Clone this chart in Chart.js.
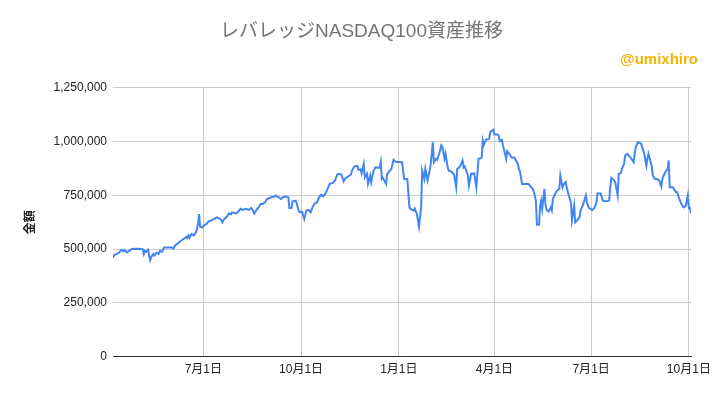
<!DOCTYPE html>
<html lang="ja">
<head>
<meta charset="utf-8">
<title>レバレッジNASDAQ100資産推移</title>
<script src="https://cdn.jsdelivr.net/npm/chart.js@4.4.1/dist/chart.umd.min.js"></script>
<style>
    html, body { margin: 0; padding: 0; background: #ffffff; }
    canvas { display: block; }
</style>
</head>
<body>
<canvas id="assetChart" width="712" height="396"></canvas>
<script>
// ============================================
// DATA
// ============================================

// days counted from 2020-04-01
const days = [
    6, 7, 10, 12, 13, 14, 16, 17, 19, 22, 24, 29, 34, 35, 36, 37, 39, 40, 41, 42,
    44, 45, 47, 49, 50, 52, 54, 61, 63, 65, 67, 69, 71, 73, 75, 76, 77, 78, 80, 82,
    84, 85, 86, 87, 88, 90, 92, 94, 96, 98, 101, 104, 107, 109, 110, 112, 114, 115, 117, 118,
    122, 124, 126, 128, 131, 134, 136, 137, 139, 141, 143, 145, 147, 149, 151, 155, 158, 159, 162, 164,
    166, 169, 171, 172, 174, 175, 178, 179, 181, 182, 184, 186, 188, 190, 192, 194, 196, 198, 200, 202,
    204, 206, 208, 210, 213, 215, 217, 219, 221, 223, 225, 227, 230, 231, 233, 236, 237, 239, 240, 242,
    243, 245, 246, 248, 249, 251, 253, 257, 258, 259, 260, 263, 264, 266, 268, 270, 272, 278, 280, 283,
    285, 286, 289, 290, 292, 294, 296, 297, 299, 300, 302, 304, 305, 306, 307, 308, 310, 311, 313, 315,
    316, 318, 319, 321, 322, 324, 326, 327, 329, 330, 332, 333, 335, 336, 337, 339, 340, 341, 343, 346,
    348, 350, 352, 353, 354, 355, 357, 360, 361, 364, 365, 368, 369, 370, 372, 373, 375, 376, 377, 379,
    381, 384, 387, 388, 389, 391, 397, 399, 401, 402, 404, 405, 407, 408, 409, 410, 412, 413, 414, 416,
    418, 419, 420, 422, 424, 426, 427, 429, 430, 432, 433, 435, 437, 438, 440, 441, 443, 445, 446, 448,
    450, 451, 452, 454, 457, 459, 461, 462, 465, 467, 469, 473, 474, 475, 478, 479, 481, 482, 484, 485,
    487, 488, 490, 493, 496, 497, 498, 500, 503, 504, 506, 508, 509, 510, 513, 514, 516, 518, 520, 522,
    523, 525, 528, 529, 530, 533, 536, 537, 539, 541, 543, 545, 547, 548, 549, 550
];

const values = [
    460000, 472000, 479000, 484000, 492000, 497000, 489000, 495000, 484000, 495000,
    500000, 502000, 500000, 477000, 492000, 487000, 497000, 469000, 449000, 464000,
    477000, 470000, 484000, 477000, 492000, 487000, 507000, 507000, 503000, 520000,
    526000, 535000, 542000, 549000, 557000, 551000, 563000, 553000, 570000, 563000,
    577000, 593000, 617000, 663000, 604000, 601000, 612000, 617000, 629000, 632000,
    640000, 647000, 640000, 624000, 636000, 644000, 655000, 666000, 662000, 671000,
    666000, 675000, 687000, 682000, 687000, 682000, 691000, 685000, 666000, 682000,
    694000, 710000, 710000, 717000, 733000, 741000, 744000, 749000, 741000, 733000,
    741000, 744000, 741000, 691000, 691000, 722000, 725000, 710000, 675000, 671000,
    674000, 640000, 679000, 682000, 671000, 697000, 713000, 717000, 741000, 753000,
    745000, 759000, 780000, 803000, 808000, 819000, 847000, 850000, 847000, 815000,
    831000, 837000, 847000, 865000, 884000, 888000, 868000, 870000, 852000, 896000,
    834000, 850000, 803000, 842000, 810000, 862000, 880000, 878000, 904000, 826000,
    831000, 803000, 847000, 862000, 873000, 915000, 906000, 904000, 826000, 826000,
    694000, 687000, 679000, 688000, 663000, 604000, 694000, 865000, 826000, 873000,
    819000, 865000, 896000, 943000, 997000, 904000, 920000, 915000, 943000, 982000,
    975000, 920000, 943000, 880000, 865000, 862000, 852000, 848000, 787000, 873000,
    880000, 888000, 912000, 880000, 885000, 857000, 842000, 795000, 850000, 852000,
    787000, 920000, 922000, 924000, 1005000, 985000, 1008000, 1013000, 1044000, 1055000,
    1033000, 1033000, 1028000, 1002000, 1008000, 982000, 943000, 920000, 955000, 943000,
    927000, 924000, 896000, 873000, 862000, 803000, 803000, 791000, 780000, 769000,
    725000, 613000, 613000, 702000, 725000, 687000, 780000, 710000, 682000, 675000,
    694000, 680000, 733000, 756000, 772000, 780000, 842000, 787000, 800000, 811000,
    787000, 749000, 717000, 635000, 702000, 624000, 635000, 647000, 679000, 702000,
    733000, 749000, 717000, 691000, 682000, 691000, 717000, 759000, 759000, 725000,
    722000, 725000, 787000, 831000, 819000, 803000, 749000, 850000, 854000, 873000,
    896000, 935000, 943000, 927000, 904000, 943000, 974000, 997000, 990000, 974000,
    943000, 888000, 920000, 943000, 888000, 842000, 826000, 826000, 819000, 791000,
    826000, 850000, 873000, 912000, 787000, 787000, 764000, 764000, 733000, 710000,
    694000, 700000, 749000, 691000, 691000, 666000
];

// x-axis ticks (same day count) and their labels
const tickDays = [91, 183, 275, 365, 456, 548];
const tickLabels = ['7月1日', '10月1日', '1月1日', '4月1日', '7月1日', '10月1日'];

const chartTitle = 'レバレッジNASDAQ100資産推移';
const chartCredit = '@umixhiro';
const yAxisTitle = '金額';

// ============================================
// CHART
// ============================================

const FONT = "'Liberation Sans', Arial, 'Noto Sans CJK JP', sans-serif";

const points = days.map((d, i) => ({ x: d, y: values[i] }));

// credit text in the top right corner, just right of the plot area
const creditPlugin = {
    id: 'credit',
    afterDraw(chart) {
        const c = chart.ctx;
        c.save();
        c.font = 'bold 15px ' + FONT;
        c.fillStyle = '#f4b400';
        c.textAlign = 'right';
        c.textBaseline = 'middle';
        c.fillText(chartCredit, chart.chartArea.right + 7, 60);
        c.restore();
    }
};

const ctx = document.getElementById('assetChart').getContext('2d');

new Chart(ctx, {
    type: 'line',
    data: {
        datasets: [{
            label: yAxisTitle,
            data: points,
            borderColor: '#4285f4',
            borderWidth: 2,
            pointRadius: 0,
            tension: 0,
            fill: false
        }]
    },
    options: {
        responsive: false,
        animation: false,
        devicePixelRatio: 1,
        layout: { padding: { left: 19, right: 8, top: 0, bottom: 13 } },
        plugins: {
            legend: { display: false },
            tooltip: { enabled: false },
            title: {
                display: true,
                text: chartTitle,
                color: '#757575',
                font: { family: FONT, size: 19, weight: 'normal' },
                padding: { top: 20, bottom: 45 }
            }
        },
        scales: {
            x: {
                type: 'linear',
                min: days[0],
                max: days[days.length - 1],
                afterBuildTicks: scale => {
                    scale.ticks = tickDays.map(v => ({ value: v }));
                },
                // keep the last label hanging into the right margin
                afterFit: scale => { scale.paddingRight = 21; },
                ticks: {
                    autoSkip: false,
                    maxRotation: 0,
                    padding: 6,
                    color: '#222222',
                    font: { family: FONT, size: 12 },
                    callback: (v, i) => tickLabels[i]
                },
                grid: { color: '#cccccc', drawTicks: false },
                border: { color: '#333333', width: 1 }
            },
            y: {
                min: 0,
                max: 1250000,
                afterFit: scale => { scale.width = 94; },
                ticks: {
                    stepSize: 250000,
                    padding: 6,
                    color: '#222222',
                    font: { family: FONT, size: 12 },
                    callback: v => v.toLocaleString('en-US')
                },
                grid: { color: '#cccccc', drawTicks: false },
                border: { display: false },
                title: {
                    display: true,
                    text: yAxisTitle,
                    color: '#222222',
                    font: { family: FONT, size: 12, weight: 'bold' }
                }
            }
        }
    },
    plugins: [creditPlugin]
});
</script>
</body>
</html>
